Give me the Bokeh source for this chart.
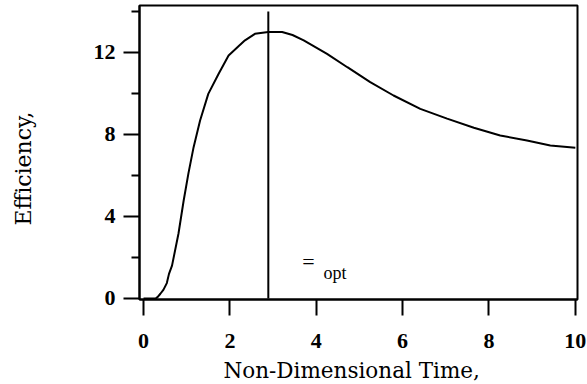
from bokeh.plotting import figure
from bokeh.models import Range1d, FixedTicker, Label, ColumnDataSource, Title
from bokeh.embed import file_html
from bokeh.resources import INLINE

# Data
t = [0.0, 0.28, 0.33, 0.39, 0.46, 0.54, 0.59, 0.66, 0.81, 0.93, 1.04, 1.16,
     1.31, 1.50, 1.74, 1.97, 2.20, 2.35, 2.58, 2.89, 3.21, 3.45, 3.71, 4.25,
     4.72, 5.25, 5.79, 6.41, 7.03, 7.65, 8.26, 8.88, 9.42, 10.0]
eff = [0.0, 0.0, 0.08, 0.23, 0.42, 0.75, 1.2, 1.6, 3.17, 4.78, 6.1, 7.38,
       8.68, 9.98, 10.96, 11.85, 12.3, 12.59, 12.91, 13.0, 13.0, 12.85, 12.59,
       11.93, 11.28, 10.55, 9.9, 9.25, 8.77, 8.33, 7.95, 7.71, 7.46, 7.35]
t_opt = [2.89]
opt_low = [0.0]
opt_high = [14.0]

x_ticks = [0, 2, 4, 6, 8, 10]
y_ticks = [0, 4, 8, 12]
y_minor = [2, 6, 10, 14]

x_label = "Non-Dimensional Time,"
y_label = "Efficiency,"

SERIF = "Liberation Serif"
LABEL_FONT = "DejaVu Serif"

p = figure(width=587, height=384, output_backend="svg", toolbar_location=None,
           x_range=Range1d(-0.093, 10.05), y_range=Range1d(-0.05, 14.29),
           min_border_left=139, min_border_right=10, min_border_top=5,
           min_border_bottom=85)
p.background_fill_color = "white"
p.border_fill_color = "white"
p.xgrid.visible = False
p.ygrid.visible = False
p.outline_line_color = "black"
p.outline_line_width = 2
p.outline_line_alpha = 1.0

p.xaxis.ticker = FixedTicker(ticks=x_ticks, minor_ticks=[])
p.yaxis.ticker = FixedTicker(ticks=y_ticks, minor_ticks=y_minor)

for ax in (p.xaxis, p.yaxis):
    ax.axis_line_width = 2
    ax.axis_line_color = "black"
    ax.major_tick_line_width = 2
    ax.major_tick_line_color = "black"
    ax.minor_tick_line_width = 2
    ax.minor_tick_line_color = "black"
    ax.major_tick_in = 0
    ax.major_tick_out = 16
    ax.minor_tick_in = 0
    ax.minor_tick_out = 8
    ax.major_label_text_font = SERIF
    ax.major_label_text_font_style = "bold"
    ax.major_label_text_font_size = "22px"
    ax.major_label_text_color = "black"

p.xaxis.major_label_standoff = 18
p.yaxis.major_label_standoff = 8

src = ColumnDataSource(dict(t=t, eff=eff))
p.line("t", "eff", source=src, line_color="black", line_width=2)

vsrc = ColumnDataSource(dict(x=t_opt, y0=opt_low, y1=opt_high))
p.segment(x0="x", y0="y0", x1="x", y1="y1", source=vsrc,
          line_color="black", line_width=2)

# axis titles (with small invisible spacers between axis and title)
p.add_layout(Title(text=" ", standoff=0, text_font_size="3px",
                   text_color="white"), "below")
p.add_layout(Title(text=x_label, align="left", offset=84, vertical_align="bottom",
                   standoff=1, text_font=LABEL_FONT, text_font_size="21.5px",
                   text_font_style="normal", text_color="black"), "below")
p.add_layout(Title(text=" ", standoff=30, text_font_size="10px",
                   text_color="white"), "left")
p.add_layout(Title(text=y_label, align="left", offset=74, vertical_align="top",
                   standoff=20, text_font=LABEL_FONT, text_font_size="22px",
                   text_font_style="normal", text_color="black"), "left")

p.add_layout(Label(x=3.82, y=1.8, text="=", text_align="center",
                   text_baseline="middle", text_font=SERIF,
                   text_font_size="22px", text_color="black"))
p.add_layout(Label(x=4.17, y=1.22, text="opt", text_align="left",
                   text_baseline="alphabetic", text_font=SERIF,
                   text_font_size="18px", text_color="black"))

open("out.html", "w").write(file_html(p, INLINE))
